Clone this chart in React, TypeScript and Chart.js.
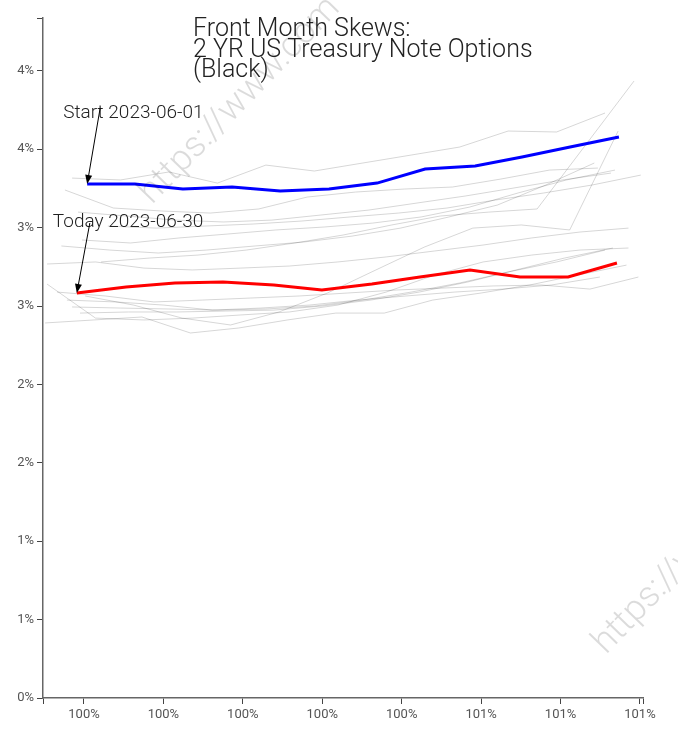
import React, { useEffect, useRef } from 'react';
import { Chart, registerables } from 'chart.js';

Chart.register(...registerables);

// ---- Titles & labels ----
const TITLE_LINES = ['Front Month Skews:', '2 YR US Treasury Note Options', '(Black)'];
const START_LABEL = 'Start 2023-06-01';
const TODAY_LABEL = 'Today 2023-06-30';
const WATERMARK = 'https://www.com';

// ---- Axes ----
const X_MIN = 99.4968;
const X_MAX = 101.0076;
const X_TICKS = [99.6, 99.8, 100.0, 100.2, 100.4, 100.6, 100.8, 101.0];
const Y_MIN = 0;
const Y_MAX = 4.337;
const Y_TICKS = [0, 0.5, 1, 1.5, 2, 2.5, 3, 3.5, 4];

// ---- Highlighted curves (moneyness %, vol %) ----
const startX = [99.608, 99.728, 99.849, 99.973, 100.094, 100.217, 100.338, 100.459, 100.585, 100.703, 100.824, 100.947];
const startY = [3.278, 3.278, 3.246, 3.259, 3.233, 3.246, 3.284, 3.374, 3.393, 3.450, 3.514, 3.578];
const todayX = [99.582, 99.706, 99.829, 99.950, 100.078, 100.199, 100.325, 100.446, 100.572, 100.698, 100.819, 100.942];
const todayY = [2.583, 2.621, 2.647, 2.653, 2.634, 2.602, 2.640, 2.685, 2.730, 2.685, 2.685, 2.774];

// ---- Intermediate days (gray) ----
const d01X = [99.570, 99.692, 99.814, 99.936, 100.058, 100.180, 100.302, 100.424, 100.546, 100.668, 100.790, 100.912];
const d01Y = [3.316, 3.304, 3.355, 3.284, 3.399, 3.361, 3.412, 3.463, 3.514, 3.616, 3.610, 3.731];
const d02X = [99.643, 99.765, 99.887, 100.009, 100.131, 100.253, 100.375, 100.497, 100.619, 100.741, 100.863, 100.985];
const d02Y = [2.781, 2.806, 2.825, 2.857, 2.902, 2.953, 3.017, 3.074, 3.099, 3.119, 3.527, 3.935];
const d03X = [99.603, 99.725, 99.847, 99.969, 100.091, 100.213, 100.335, 100.457, 100.579, 100.701, 100.823, 100.945];
const d03Y = [2.564, 2.506, 2.423, 2.379, 2.462, 2.583, 2.730, 2.876, 2.997, 3.017, 2.985, 3.616];
const d04X = [99.552, 99.674, 99.796, 99.918, 100.040, 100.162, 100.284, 100.406, 100.528, 100.650, 100.772, 100.894];
const d04Y = [3.240, 3.125, 3.106, 3.093, 3.119, 3.195, 3.227, 3.246, 3.259, 3.310, 3.367, 3.380];
const d05X = [99.585, 99.707, 99.829, 99.951, 100.073, 100.195, 100.317, 100.439, 100.561, 100.683, 100.805, 100.927];
const d05Y = [3.099, 3.074, 3.048, 3.036, 3.048, 3.080, 3.112, 3.157, 3.202, 3.253, 3.304, 3.348];
const d06X = [99.595, 99.717, 99.839, 99.961, 100.083, 100.205, 100.327, 100.449, 100.571, 100.693, 100.815, 100.937];
const d06Y = [2.921, 2.902, 2.934, 2.959, 2.985, 3.004, 3.029, 3.068, 3.131, 3.221, 3.304, 3.367];
const d07X = [99.543, 99.665, 99.787, 99.909, 100.031, 100.153, 100.275, 100.397, 100.519, 100.641, 100.763, 100.885];
const d07Y = [2.883, 2.857, 2.838, 2.857, 2.883, 2.908, 2.946, 2.997, 3.068, 3.144, 3.272, 3.412];
const d08X = [99.660, 99.782, 99.904, 100.026, 100.148, 100.270, 100.392, 100.514, 100.636, 100.758, 100.880, 101.002];
const d08Y = [3.010, 2.997, 3.010, 3.023, 3.042, 3.068, 3.093, 3.125, 3.176, 3.221, 3.272, 3.335];
const d09X = [99.507, 99.629, 99.751, 99.873, 99.995, 100.117, 100.239, 100.361, 100.483, 100.605, 100.727, 100.849, 100.971];
const d09Y = [2.768, 2.781, 2.742, 2.730, 2.742, 2.755, 2.781, 2.813, 2.851, 2.889, 2.934, 2.972, 2.997];
const d10X = [99.507, 99.629, 99.751, 99.873, 99.995, 100.117, 100.239, 100.361, 100.483, 100.605, 100.727, 100.849, 100.971];
const d10Y = [2.640, 2.423, 2.411, 2.423, 2.443, 2.462, 2.506, 2.589, 2.698, 2.781, 2.825, 2.857, 2.870];
const d11X = [99.532, 99.654, 99.776, 99.898, 100.020, 100.142, 100.264, 100.386, 100.508, 100.630, 100.752, 100.874, 100.996];
const d11Y = [2.589, 2.564, 2.526, 2.538, 2.551, 2.564, 2.583, 2.602, 2.615, 2.628, 2.634, 2.608, 2.685];
const d12X = [99.557, 99.679, 99.801, 99.923, 100.045, 100.167, 100.289, 100.411, 100.533, 100.655, 100.777, 100.899];
const d12Y = [2.538, 2.526, 2.506, 2.474, 2.487, 2.506, 2.538, 2.564, 2.589, 2.608, 2.634, 2.685];
const d13X = [99.570, 99.692, 99.814, 99.936, 100.058, 100.180, 100.302, 100.424, 100.546, 100.668, 100.790, 100.912];
const d13Y = [2.494, 2.487, 2.481, 2.474, 2.481, 2.500, 2.538, 2.589, 2.647, 2.717, 2.781, 2.857];
const d14X = [99.590, 99.712, 99.834, 99.956, 100.078, 100.200, 100.322, 100.444, 100.566, 100.688, 100.810, 100.932];
const d14Y = [2.455, 2.462, 2.462, 2.468, 2.474, 2.500, 2.538, 2.589, 2.653, 2.730, 2.806, 2.870];
const d15X = [99.502, 99.624, 99.746, 99.868, 99.990, 100.112, 100.234, 100.356, 100.478, 100.600, 100.722, 100.844, 100.966];
const d15Y = [2.392, 2.411, 2.430, 2.328, 2.360, 2.411, 2.455, 2.455, 2.538, 2.583, 2.634, 2.698, 2.761];

const GRAY_DAYS: [number[], number[]][] = [
  [d01X, d01Y], [d02X, d02Y], [d03X, d03Y], [d04X, d04Y], [d05X, d05Y],
  [d06X, d06Y], [d07X, d07Y], [d08X, d08Y], [d09X, d09Y], [d10X, d10Y],
  [d11X, d11Y], [d12X, d12Y], [d13X, d13Y], [d14X, d14Y], [d15X, d15Y],
];

const pts = (xs: number[], ys: number[]) => xs.map((x, i) => ({ x, y: ys[i] }));

const FONT = 'Roboto';

function drawArrow(ctx: CanvasRenderingContext2D, x1: number, y1: number, x2: number, y2: number) {
  const ang = Math.atan2(y2 - y1, x2 - x1);
  const len = 9;
  const hw = 3.5;
  ctx.save();
  ctx.strokeStyle = '#000';
  ctx.fillStyle = '#000';
  ctx.lineWidth = 1;
  ctx.beginPath();
  ctx.moveTo(x1, y1);
  ctx.lineTo(x2 - Math.cos(ang) * len * 0.8, y2 - Math.sin(ang) * len * 0.8);
  ctx.stroke();
  ctx.beginPath();
  ctx.moveTo(x2, y2);
  ctx.lineTo(x2 - Math.cos(ang) * len - Math.sin(ang) * hw, y2 - Math.sin(ang) * len + Math.cos(ang) * hw);
  ctx.lineTo(x2 - Math.cos(ang) * len + Math.sin(ang) * hw, y2 - Math.sin(ang) * len - Math.cos(ang) * hw);
  ctx.closePath();
  ctx.fill();
  ctx.restore();
}

const overlayPlugin = {
  id: 'overlay',
  afterDraw(chart: any) {
    const ctx: CanvasRenderingContext2D = chart.ctx;
    // watermark
    ctx.save();
    ctx.font = `300 36px ${FONT}`;
    ctx.fillStyle = 'rgba(0,0,0,0.14)';
    ctx.textBaseline = 'alphabetic';
    ctx.textAlign = 'left';
    [[152, 205], [606, 655]].forEach(([wx, wy]) => {
      ctx.save();
      ctx.translate(wx, wy);
      ctx.rotate((-46 * Math.PI) / 180);
      ctx.fillText(WATERMARK, 0, 0);
      ctx.restore();
    });
    ctx.restore();

    // title
    ctx.save();
    ctx.font = `300 25px ${FONT}`;
    ctx.fillStyle = '#222';
    ctx.textAlign = 'left';
    ctx.textBaseline = 'alphabetic';
    TITLE_LINES.forEach((t, i) => ctx.fillText(t, 193, 36 + i * 20.5));
    ctx.restore();

    // annotations
    const ann = [
      { ds: 0, label: START_LABEL, ax: 13, ay: -76 },
      { ds: 1, label: TODAY_LABEL, ax: 13, ay: -70 },
    ];
    ann.forEach((a) => {
      const meta = chart.getDatasetMeta(a.ds);
      const p = meta.data[0];
      if (!p) return;
      ctx.save();
      ctx.font = `300 19px ${FONT}`;
      ctx.fillStyle = '#222';
      ctx.textAlign = 'left';
      ctx.textBaseline = 'alphabetic';
      ctx.fillText(a.label, p.x - 24, p.y - 66);
      ctx.restore();
      drawArrow(ctx, p.x + a.ax, p.y + a.ay, p.x, p.y);
    });
  },
};

export default function App() {
  const ref = useRef<HTMLCanvasElement | null>(null);

  useEffect(() => {
    if (!ref.current) return;
    const grayDatasets = GRAY_DAYS.map(([xs, ys]) => ({
      data: pts(xs, ys),
      borderColor: 'rgba(0,0,0,0.16)',
      borderWidth: 1,
      pointRadius: 0,
      tension: 0,
      order: 2,
    }));
    const chart = new Chart(ref.current, {
      type: 'line',
      data: {
        datasets: [
          { data: pts(startX, startY), borderColor: '#0000ff', borderWidth: 3, pointRadius: 0, tension: 0, order: 0 },
          { data: pts(todayX, todayY), borderColor: '#ff0000', borderWidth: 3, pointRadius: 0, tension: 0, order: 0 },
          ...grayDatasets,
        ] as any,
      },
      options: {
        responsive: false,
        animation: false,
        events: [],
        layout: { padding: { top: 18, right: 35, left: 0, bottom: 0 } },
        plugins: {
          legend: { display: false },
          tooltip: { enabled: false },
          title: { display: false },
        },
        scales: {
          x: {
            type: 'linear',
            min: X_MIN,
            max: X_MAX,
            afterBuildTicks: (s: any) => {
              s.ticks = [X_MIN, ...X_TICKS, X_MAX].map((v) => ({ value: v }));
            },
            afterFit: (s: any) => {
              s.height = 32;
            },
            ticks: {
              autoSkip: false,
              maxRotation: 0,
              minRotation: 0,
              padding: 3,
              color: '#555',
              font: { family: FONT, size: 13 },
              callback: (v: any) => (v === X_MIN || v === X_MAX ? '' : Math.round(v) + '%'),
            },
            grid: { drawOnChartArea: false, drawTicks: true, tickLength: 6, color: '#444' },
            border: { display: true, color: '#666', width: 1.5 },
          },
          y: {
            type: 'linear',
            min: Y_MIN,
            max: Y_MAX,
            afterBuildTicks: (s: any) => {
              s.ticks = [...Y_TICKS, Y_MAX].map((v) => ({ value: v }));
            },
            afterFit: (s: any) => {
              s.width = 43;
            },
            ticks: {
              autoSkip: false,
              padding: 3,
              color: '#555',
              font: { family: FONT, size: 13 },
              callback: (v: any) => (v === Y_MAX ? '' : Math.round(v) + '%'),
            },
            grid: { drawOnChartArea: false, drawTicks: true, tickLength: 6, color: '#444' },
            border: { display: true, color: '#666', width: 1.5 },
          },
        },
      } as any,
      plugins: [overlayPlugin as any],
    });
    return () => chart.destroy();
  }, []);

  return (
    <div style={{ position: 'fixed', left: 0, top: 0, width: 678, height: 730, background: '#fff' }}>
      <canvas ref={ref} width={678} height={730} style={{ display: 'block', width: 678, height: 730 }} />
    </div>
  );
}
